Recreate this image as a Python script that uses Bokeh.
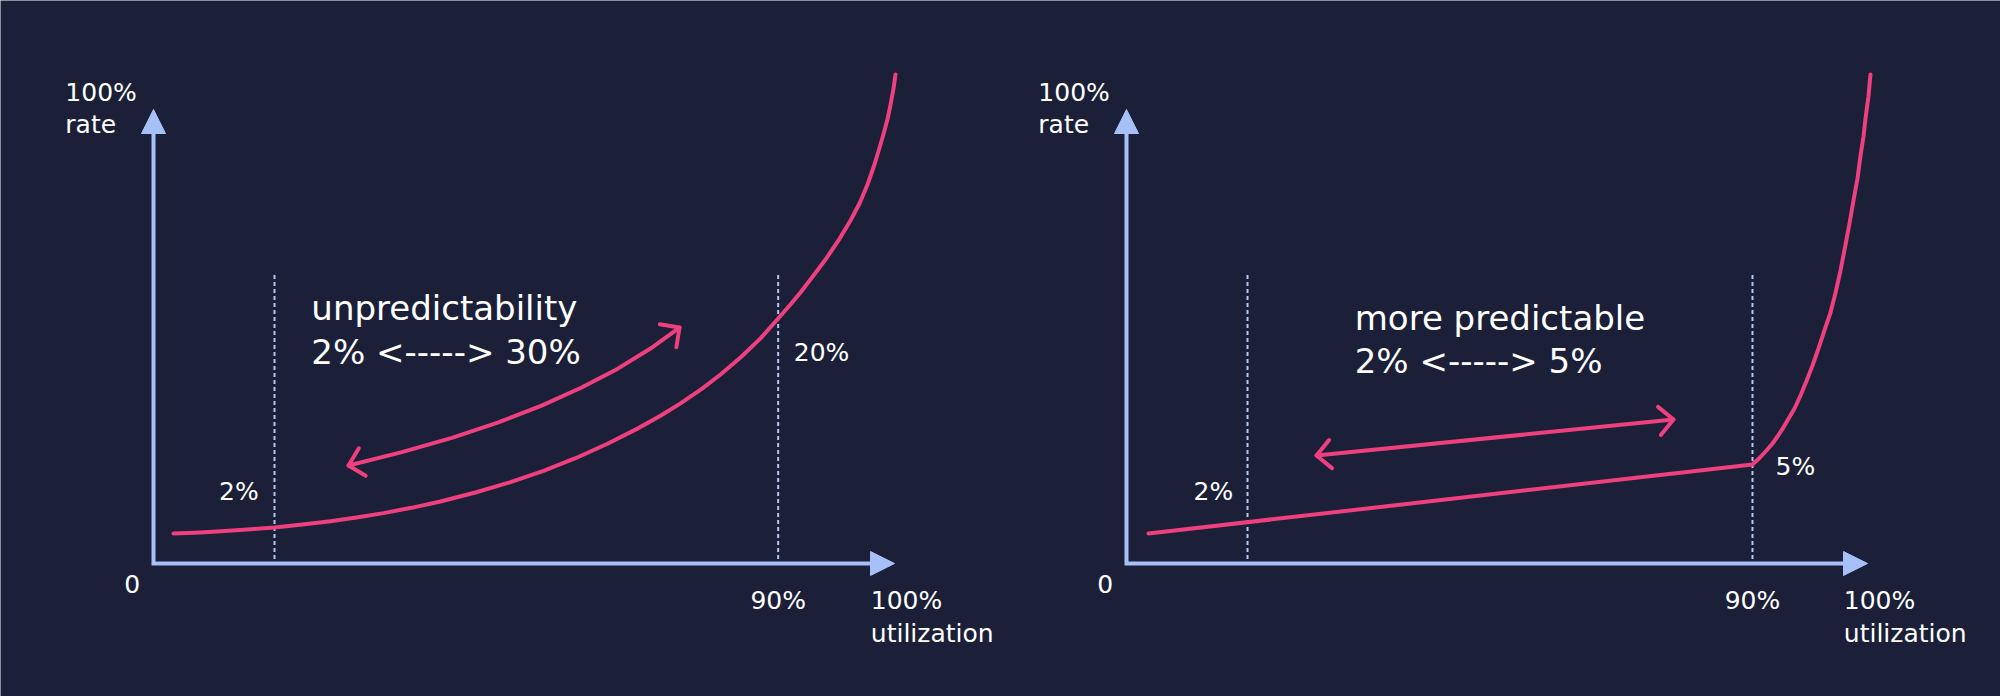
import math
from bokeh.plotting import figure
from bokeh.models import Range1d, Arrow, NormalHead
from bokeh.embed import file_html
from bokeh.resources import INLINE
from bokeh.core.properties import value

# ---------------- data (each axis arrow spans 0..100) -------------
# left panel: steep, unpredictable curve
left_util = [2.70, 6.34, 9.04, 12.69, 16.33, 20.11, 23.89, 27.40, 31.04, 34.82, 38.73, 43.45,
             48.18, 52.63, 56.95, 61.27, 65.45, 68.42, 71.12, 74.09, 76.52, 79.22, 81.92,
             84.30, 85.96, 87.31, 89.07, 90.69, 92.44, 94.06, 95.28, 96.36, 97.30, 98.11,
             98.65, 99.06, 99.46, 99.87, 100.13]
left_rate = [6.61, 6.83, 7.09, 7.49, 7.93, 8.57, 9.32, 10.13, 11.10, 12.26, 13.66, 15.64,
             17.93, 20.42, 23.19, 26.37, 29.82, 32.55, 35.26, 38.59, 41.63, 45.37, 49.58,
             53.96, 57.05, 59.69, 63.44, 66.96, 71.15, 75.55, 79.30, 83.48, 87.89, 92.29,
             95.37, 97.91, 100.99, 104.63, 107.71]
# left double-headed curved arrow
left_arrow_util = [26.32, 33.52, 40.27, 46.55, 52.38, 57.71, 62.60, 67.02, 70.99]
left_arrow_rate = [21.59, 24.52, 27.67, 31.10, 34.76, 38.70, 42.86, 47.29, 51.98]
# right panel: flat slope up to the kink, then steep
right_util = [2.97, 84.48, 85.43, 86.37, 87.18, 87.85, 88.53, 89.20, 90.15, 90.96, 91.77,
              92.58, 93.39, 94.18, 95.01, 95.66, 96.36, 97.01, 97.57, 98.11, 98.65, 99.06,
              99.46, 99.73, 100.13, 100.40]
right_rate = [6.61, 21.81, 23.24, 24.89, 26.43, 27.97, 29.63, 31.50, 34.14, 37.00, 40.20,
              43.61, 47.36, 51.32, 55.29, 59.47, 64.54, 70.04, 74.89, 79.96, 84.80, 89.87,
              94.05, 98.02, 102.86, 107.71]
# right double-headed straight arrow
right_arrow_util = [25.64, 73.82]
right_arrow_rate = [23.79, 31.72]
# dashed guide lines
guide_util_left = [16.33, 84.30]
guide_util_right = [16.33, 84.48]
guide_rate = [1.0, 63.9]

# labels
axis_top_labels = ["100%", "rate"]
axis_right_labels = ["100%", "utilization"]
origin_label = "0"
knee_label = "90%"
left_point_labels = ["2%", "20%"]
right_point_labels = ["2%", "5%"]
left_note = ["unpredictability", "2% <-----> 30%"]
right_note = ["more predictable", "2% <-----> 5%"]

# ---------------- style / layout ----------------
BG = "#1b1f38"
PINK = "#ee3f7e"
AXIS = "#a7c0f7"
GUIDE = "#b4c8f2"
WHITE = "#ffffff"
FONT = value("DejaVu Sans")
SMALL = "25px"
BIG = "34px"
SHIFT_SMALL = 10   # px: baseline correction for the renderer
SHIFT_BIG = 12

W, H = 2000, 696
SX, SY = 7.41, 4.54            # pixels per data unit
OY = 563                       # pixel row of both x axes
OX_LEFT, OX_RIGHT = 153, 1126  # pixel column of each y axis


def py(pix, shift=SHIFT_SMALL):   # pixel row of a text baseline -> data y
    return (OY - (pix - shift)) / SY


p = figure(width=W, height=H, output_backend="svg", toolbar_location=None,
           x_range=Range1d(-OX_LEFT / SX, (W - OX_LEFT) / SX),
           y_range=Range1d(-(H - OY) / SY, OY / SY),
           min_border=0, x_axis_type=None, y_axis_type=None)
p.extra_x_ranges = {"right": Range1d(-OX_RIGHT / SX, (W - OX_RIGHT) / SX)}
p.grid.visible = False
p.outline_line_color = None
p.background_fill_color = BG
p.border_fill_color = BG


def arms(tx, ty, nx, ny, length=20.0, ang=45.0):
    dx = (nx - tx) * SX
    dy = -(ny - ty) * SY
    L = math.hypot(dx, dy)
    ux, uy = dx / L, dy / L
    xs, ys = [], []
    for a in (ang, -ang):
        r = math.radians(a)
        rx = ux * math.cos(r) - uy * math.sin(r)
        ry = ux * math.sin(r) + uy * math.cos(r)
        xs.append(tx + rx * length / SX)
        ys.append(ty - ry * length / SY)
    return [xs[0], tx, xs[1]], [ys[0], ty, ys[1]]


def panel(rn, cu, cr, au, ar, gu, pt_labels, pt_pos, note, note_pos):
    kw = {} if rn is None else {"x_range_name": rn}
    # dashed guides
    p.segment(x0=gu, y0=[guide_rate[0]] * 2, x1=gu, y1=[guide_rate[1]] * 2,
              line_color=GUIDE, line_width=2, line_dash="4 3", **kw)
    # axes
    dx, dy = 12 / SX, 12 / SY
    p.line(x=[0, 0, 100 - dx], y=[100 - dy, 0, 0], line_color=AXIS, line_width=4,
           line_join="miter", **kw)
    for (x0, y0, x1, y1) in [(0, 0, 100, 0), (0, 0, 0, 100)]:
        p.add_layout(Arrow(end=NormalHead(size=24, fill_color=AXIS, line_color=AXIS, line_width=1),
                           x_start=x0, y_start=y0, x_end=x1, y_end=y1, line_alpha=0, **kw))
    # main curve
    p.line(x=cu, y=cr, line_color=PINK, line_width=4, line_cap="round", line_join="round", **kw)
    # double arrow
    p.line(x=au, y=ar, line_color=PINK, line_width=4, line_cap="round", line_join="round", **kw)
    a1 = arms(au[0], ar[0], au[1], ar[1])
    a2 = arms(au[-1], ar[-1], au[-2], ar[-2])
    p.multi_line(xs=[a1[0], a2[0]], ys=[a1[1], a2[1]], line_color=PINK, line_width=4,
                 line_cap="round", line_join="round", **kw)

    tkw = dict(text_font=FONT, text_color=WHITE, text_baseline="alphabetic", **kw)
    # axis labels
    p.text(x=[-11.9, -11.9], y=[py(102), py(134)], text=axis_top_labels,
           text_font_size=SMALL, text_align="left", **tkw)
    p.text(x=[96.8, 96.8], y=[py(610), py(643)], text=axis_right_labels,
           text_font_size=SMALL, text_align="left", **tkw)
    p.text(x=[-2.87], y=[py(593)], text=[origin_label],
           text_font_size=SMALL, text_align="center", **tkw)
    p.text(x=[gu[1]], y=[py(610)], text=[knee_label],
           text_font_size=SMALL, text_align="center", **tkw)
    # point labels
    p.text(x=[pt_pos[0][0]], y=[pt_pos[0][1]], text=[pt_labels[0]],
           text_font_size=SMALL, text_align="right", **tkw)
    p.text(x=[pt_pos[1][0]], y=[pt_pos[1][1]], text=[pt_labels[1]],
           text_font_size=SMALL, text_align="left", **tkw)
    # note
    p.text(x=[note_pos[0]] * 2, y=[note_pos[1], note_pos[2]], text=note,
           text_font_size=BIG, text_align="left", **tkw)


panel(None, left_util, left_rate, left_arrow_util, left_arrow_rate, guide_util_left,
      left_point_labels, [(14.2, py(501)), (86.4, py(362))],
      left_note, (21.3, py(319, SHIFT_BIG), py(363, SHIFT_BIG)))
panel("right", right_util, right_rate, right_arrow_util, right_arrow_rate, guide_util_right,
      right_point_labels, [(14.4, py(501)), (87.6, py(476))],
      right_note, (30.8, py(329, SHIFT_BIG), py(372, SHIFT_BIG)))

open("out.html", "w").write(file_html(p, INLINE))
